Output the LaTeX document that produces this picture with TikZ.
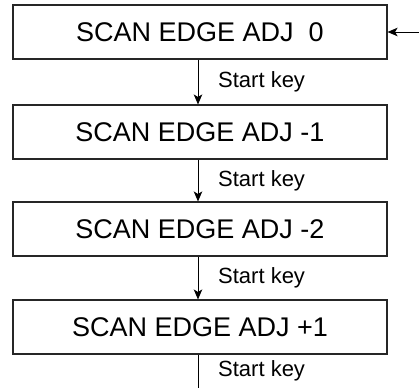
\documentclass[tikz,border=0pt]{standalone}
\usepackage{fontspec}
\setmainfont{Liberation Sans}
\usetikzlibrary{arrows.meta}
\begin{document}
\begin{tikzpicture}[x=1pt,y=1pt,
  stepbox/.style={draw=black!85,line width=1.1pt,minimum width=374pt,minimum height=54pt,inner sep=0pt,font=\fontsize{27}{31}\selectfont},
  lbl/.style={anchor=west,inner sep=0pt,font=\fontsize{22}{26}\selectfont},
  conn/.style={line width=1pt,-{Stealth[length=10pt,width=8.5pt,inset=2.5pt]}}]
\useasboundingbox (0,0) rectangle (419,-388);
\node[stepbox] (b1) at (200,-32) {SCAN EDGE ADJ\ \ 0};
\node[stepbox] (b2) at (200,-132) {SCAN EDGE ADJ -1};
\node[stepbox] (b3) at (200,-229) {SCAN EDGE ADJ -2};
\node[stepbox] (b4) at (200,-327) {SCAN EDGE ADJ +1};
\coordinate (in) at (419,-32);
\coordinate (out) at (198,-388);
\draw[conn] (in) -- (b1.east);
\draw[conn] (b1.south -| out) -- (b2.north -| out);
\draw[conn] (b2.south -| out) -- (b3.north -| out);
\draw[conn] (b3.south -| out) -- (b4.north -| out);
\draw[line width=1pt] (b4.south -| out) -- (out);
\node[lbl] (l1) at (218,-82) {Start key};
\node[lbl] (l2) at (218,-180.5) {Start key};
\node[lbl] (l3) at (218,-278) {Start key};
\node[lbl] (l4) at (218,-371) {Start key};
\end{tikzpicture}
\end{document}
